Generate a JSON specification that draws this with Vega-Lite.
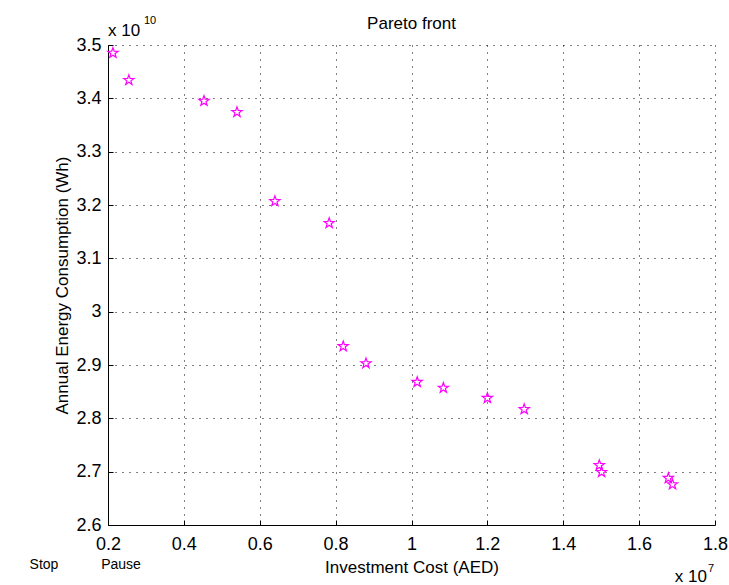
{
  "$schema": "https://vega.github.io/schema/vega-lite/v6.json",
  "width": 607,
  "height": 480,
  "autosize": {"type": "none"},
  "padding": {"left": 108, "top": 45, "right": 14, "bottom": 60},
  "background": "white",
  "config": {"view": {"stroke": null}, "font": "Liberation Sans"},
  "title": {"text": "Pareto front", "fontSize": 17, "fontWeight": "normal", "font": "Liberation Sans", "color": "#000", "offset": -18, "anchor": "middle"},
  "data": {"values": [
    {"cost": 0.213, "energy": 3.485},
    {"cost": 0.255, "energy": 3.434},
    {"cost": 0.453, "energy": 3.395},
    {"cost": 0.540, "energy": 3.374},
    {"cost": 0.640, "energy": 3.207},
    {"cost": 0.783, "energy": 3.166},
    {"cost": 0.820, "energy": 2.935},
    {"cost": 0.880, "energy": 2.903},
    {"cost": 1.015, "energy": 2.868},
    {"cost": 1.084, "energy": 2.857},
    {"cost": 1.200, "energy": 2.838},
    {"cost": 1.297, "energy": 2.817},
    {"cost": 1.495, "energy": 2.712},
    {"cost": 1.501, "energy": 2.699},
    {"cost": 1.677, "energy": 2.688},
    {"cost": 1.688, "energy": 2.676}
  ]},
  "layer": [
    {
      "mark": {"type": "point", "shape": "M0,-1L0.235,-0.324L0.951,-0.309L0.38,0.124L0.588,0.809L0,0.4L-0.588,0.809L-0.38,0.124L-0.951,-0.309L-0.235,-0.324Z", "filled": false, "stroke": "#ff00ff", "strokeWidth": 1.2, "size": 115, "opacity": 1},
      "encoding": {
        "x": {"field": "cost", "type": "quantitative",
          "scale": {"domain": [0.2, 1.8], "nice": false, "zero": false},
          "axis": {"values": [0.2, 0.4, 0.6, 0.8, 1, 1.2, 1.4, 1.6, 1.8], "format": "~g",
            "title": "Investment Cost (AED)", "titleFontSize": 17, "titleFontWeight": "normal", "titleColor": "#000", "titlePadding": 6, "titleFont": "Liberation Sans",
            "labelFontSize": 18, "labelColor": "#000", "labelPadding": 15, "labelFont": "Liberation Sans",
            "tickSize": -5, "tickColor": "#000", "domainColor": "#000",
            "grid": true, "gridColor": "#000", "gridDash": [1, 6], "gridOpacity": 1,
            "labelFlush": false, "labelOverlap": false, "labelBound": false}},
        "y": {"field": "energy", "type": "quantitative",
          "scale": {"domain": [2.6, 3.5], "nice": false, "zero": false},
          "axis": {"values": [2.6, 2.7, 2.8, 2.9, 3, 3.1, 3.2, 3.3, 3.4, 3.5], "format": "~g",
            "title": "Annual Energy Consumption (Wh)", "titleFontSize": 17, "titleFontWeight": "normal", "titleColor": "#000", "titlePadding": 4, "titleFont": "Liberation Sans",
            "labelFontSize": 18, "labelColor": "#000", "labelPadding": 12, "labelFont": "Liberation Sans",
            "tickSize": -5, "tickColor": "#000", "domainColor": "#000",
            "grid": true, "gridColor": "#000", "gridDash": [1, 6], "gridOpacity": 1,
            "labelFlush": false, "labelOverlap": false, "labelBound": false}}
      }
    },
    {
      "data": {"values": [{}]},
      "mark": {"type": "text", "text": "x 10", "fontSize": 17, "align": "left", "baseline": "alphabetic", "dy": -9, "color": "#000", "font": "Liberation Sans"},
      "encoding": {"x": {"datum": 0.2, "type": "quantitative"}, "y": {"datum": 3.5, "type": "quantitative"}}
    },
    {
      "data": {"values": [{}]},
      "mark": {"type": "text", "text": "10", "fontSize": 11, "align": "left", "baseline": "alphabetic", "dx": 36, "dy": -21, "color": "#000", "font": "Liberation Sans"},
      "encoding": {"x": {"datum": 0.2, "type": "quantitative"}, "y": {"datum": 3.5, "type": "quantitative"}}
    },
    {
      "data": {"values": [{}]},
      "mark": {"type": "text", "text": "x 10", "fontSize": 17, "align": "right", "baseline": "alphabetic", "dx": -8, "dy": 57, "color": "#000", "font": "Liberation Sans"},
      "encoding": {"x": {"datum": 1.8, "type": "quantitative"}, "y": {"datum": 2.6, "type": "quantitative"}}
    },
    {
      "data": {"values": [{}]},
      "mark": {"type": "text", "text": "7", "fontSize": 11, "align": "left", "baseline": "alphabetic", "dx": -7, "dy": 47, "color": "#000", "font": "Liberation Sans"},
      "encoding": {"x": {"datum": 1.8, "type": "quantitative"}, "y": {"datum": 2.6, "type": "quantitative"}}
    },
    {
      "data": {"values": [{}]},
      "mark": {"type": "text", "text": "Stop", "fontSize": 14, "align": "center", "baseline": "middle", "dx": -64, "dy": 40, "color": "#000", "font": "Liberation Sans"},
      "encoding": {"x": {"datum": 0.2, "type": "quantitative"}, "y": {"datum": 2.6, "type": "quantitative"}}
    },
    {
      "data": {"values": [{}]},
      "mark": {"type": "text", "text": "Pause", "fontSize": 14, "align": "center", "baseline": "middle", "dx": 13, "dy": 40, "color": "#000", "font": "Liberation Sans"},
      "encoding": {"x": {"datum": 0.2, "type": "quantitative"}, "y": {"datum": 2.6, "type": "quantitative"}}
    }
  ]
}
